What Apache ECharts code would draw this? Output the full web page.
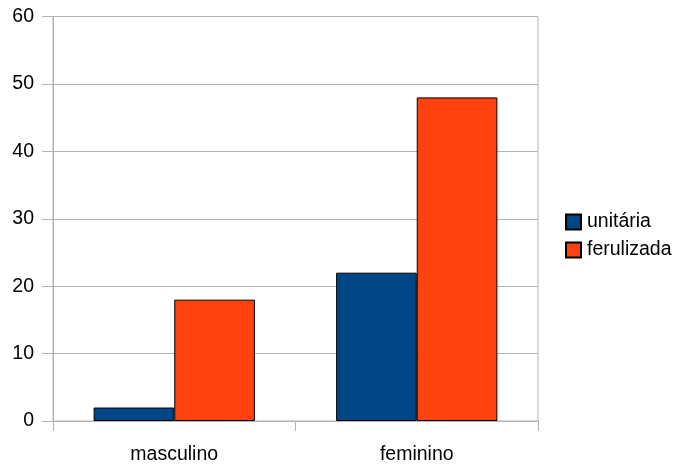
<!DOCTYPE html>
<html>
<head>
<meta charset="utf-8">
<script src="https://cdn.jsdelivr.net/npm/echarts@6/dist/echarts.min.js"></script>
<style>
  html, body { margin: 0; padding: 0; background: #ffffff; }
  #chart { width: 678px; height: 465px; }
</style>
</head>
<body>
<div id="chart"></div>
<script>
// Categories and series values
const categories = ['masculino', 'feminino'];
const unitaria = [2, 22];
const ferulizada = [18, 48];
const seriesNames = ['unitária', 'ferulizada'];

const axisGray = '#b3b3b3';
const font = 'Liberation Sans, Arial, sans-serif';

const chart = echarts.init(document.getElementById('chart'), null, { renderer: 'canvas' });

chart.setOption({
  animation: false,
  backgroundColor: '#ffffff',
  textStyle: { fontFamily: font },
  grid: {
    left: 53,
    right: 140,
    top: 16.5,
    bottom: 43,
    show: true,
    borderColor: axisGray,
    borderWidth: 1,
    containLabel: false
  },
  legend: {
    orient: 'vertical',
    left: 560,
    top: 207,
    itemWidth: 15,
    itemHeight: 15,
    itemGap: 8,
    icon: 'rect',
    textStyle: { fontFamily: font, fontSize: 19.5, color: '#000000', padding: [13, 0, 0, 1] },
    data: seriesNames
  },
  xAxis: {
    type: 'category',
    data: categories,
    axisLine: { show: true, lineStyle: { color: axisGray, width: 1 } },
    axisTick: { show: true, length: 10, lineStyle: { color: axisGray } },
    axisLabel: { color: '#000000', fontSize: 19.5, fontFamily: font, margin: 24 },
    splitLine: { show: false }
  },
  yAxis: {
    type: 'value',
    min: 0,
    max: 60,
    interval: 10,
    axisLine: { show: true, lineStyle: { color: axisGray, width: 1 } },
    axisTick: { show: true, length: 11, lineStyle: { color: axisGray } },
    axisLabel: { color: '#000000', fontSize: 19.5, fontFamily: font, margin: 19, padding: [9, 0, 0, 0] },
    splitLine: { show: true, lineStyle: { color: axisGray, width: 1 } }
  },
  series: [
    {
      name: seriesNames[0],
      type: 'bar',
      data: unitaria,
      barGap: '0%',
      barCategoryGap: '33.5%',
      itemStyle: { color: '#004586', borderColor: '#000000', borderWidth: 1 }
    },
    {
      name: seriesNames[1],
      type: 'bar',
      data: ferulizada,
      barGap: '0%',
      barCategoryGap: '33.5%',
      itemStyle: { color: '#ff420e', borderColor: '#000000', borderWidth: 1 }
    }
  ]
});
</script>
</body>
</html>
